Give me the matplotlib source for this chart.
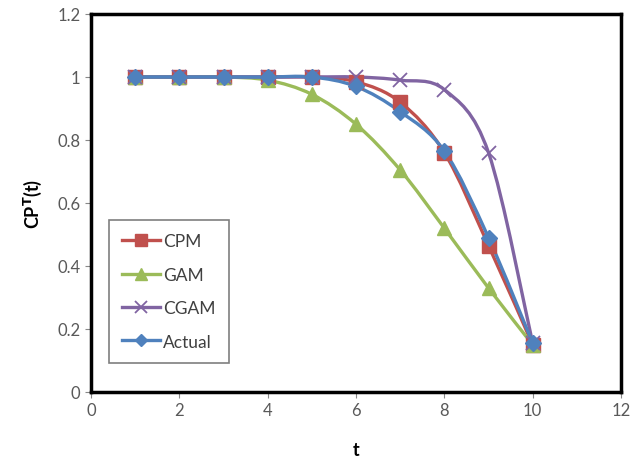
import numpy as np
import matplotlib; matplotlib.use("Agg")
import matplotlib.pyplot as plt
from matplotlib.path import Path
from matplotlib.patches import PathPatch
from matplotlib.lines import Line2D

t = [1, 2, 3, 4, 5, 6, 7, 8, 9, 10]
cpm = [1, 1, 1, 1, 1, 0.985, 0.92, 0.76, 0.465, 0.15]
gam = [1, 1, 1, 0.99, 0.945, 0.85, 0.705, 0.52, 0.33, 0.15]
cgam = [1, 1, 1, 1, 1, 1, 0.99, 0.96, 0.76, 0.155]
actual = [1, 1, 1, 1, 1, 0.97, 0.89, 0.765, 0.49, 0.155]

series = [
    ("CPM", cpm, "#C0504D", "s", 10),
    ("GAM", gam, "#9BBB59", "^", 10),
    ("CGAM", cgam, "#8064A2", "x", 10),
    ("Actual", actual, "#4F81BD", "D", 8),
]

plt.rcParams["font.family"] = ["Lato", "DejaVu Sans"]

def smooth_path(x, y):
    # excel-like smoothed line: bezier through the points
    p = np.column_stack([x, y]).astype(float)
    verts = [p[0]]; codes = [Path.MOVETO]
    n = len(p)
    for i in range(n - 1):
        p0 = p[i - 1] if i > 0 else p[i]
        p3 = p[i + 2] if i + 2 < n else p[i + 1]
        c1 = p[i] + (p[i + 1] - p0) / 6
        c2 = p[i + 1] - (p3 - p[i]) / 6
        verts += [c1, c2, p[i + 1]]
        codes += [Path.CURVE4] * 3
    return Path(verts, codes)

fig = plt.figure(figsize=(6.3, 4.64), dpi=100)
ax = fig.add_axes([91 / 630, 1 - 393 / 464, (621 - 91) / 630, (393 - 15) / 464])

handles = []
for name, ys, col, mk, ms in series:
    ax.add_patch(PathPatch(smooth_path(t, ys), fill=False, edgecolor=col, lw=2.4, capstyle="round"))
    if mk == "x":
        ax.plot(t, ys, ls="none", marker=mk, ms=ms, mew=1.3, color=col)
    else:
        ax.plot(t, ys, ls="none", marker=mk, ms=ms, mfc=col, mec=col)
    handles.append(Line2D([], [], color=col, lw=2.4, marker=mk, ms=ms - 2,
                          mew=1.3 if mk == "x" else 1, label=name))

ax.set_xlim(0, 12)
ax.set_ylim(0, 1.2)
ax.set_xticks(range(0, 13, 2))
ax.set_yticks([0, 0.2, 0.4, 0.6, 0.8, 1, 1.2])
ax.set_yticklabels(["0", "0.2", "0.4", "0.6", "0.8", "1", "1.2"])
ax.tick_params(direction="out", length=4, color="#888888", labelcolor="#595959", labelsize=12)
for s in ax.spines.values():
    s.set_linewidth(2.5)
    s.set_color("black")

ax.set_xlabel("t", fontsize=13, fontweight="bold", labelpad=16)
ax.set_ylabel(r"CP$^\mathbf{T}$(t)", fontsize=13, fontweight="bold", labelpad=10)

leg = ax.legend(handles=handles, loc="lower left", bbox_to_anchor=(0.018, 0.055),
                fontsize=12.5, handlelength=2.2, labelspacing=1.0, borderpad=0.75,
                handletextpad=0.15, fancybox=False, edgecolor="#7f7f7f", framealpha=1)
leg.get_frame().set_linewidth(1.2)
for txt in leg.get_texts():
    txt.set_color("#404040")

fig.savefig("out.png", dpi=100)
